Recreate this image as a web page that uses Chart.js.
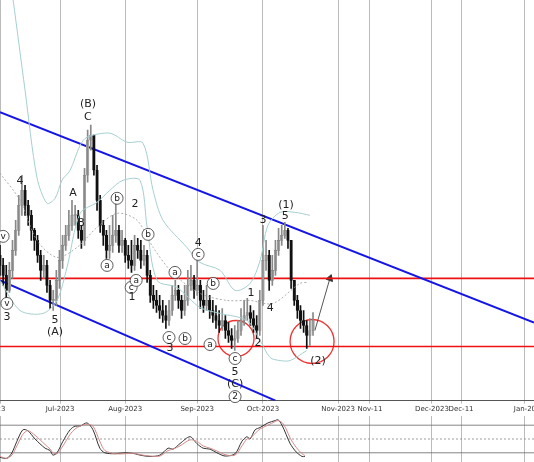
<!DOCTYPE html>
<html>
<head>
<meta charset="utf-8">
<script src="https://cdn.jsdelivr.net/npm/chart.js@4"></script>
<style>
  body { margin: 0; background: #fff; }
  #main { position: absolute; left: 0; top: 0; }
  #osc { position: absolute; left: 0; top: 416px; }
</style>
</head>
<body>
<div id="main" style="width:534px;height:414px"><canvas id="mainChart"></canvas></div>
<div id="osc" style="width:534px;height:46px"><canvas id="oscChart"></canvas></div>
<script>
// price values are in chart units (bigger = higher), one candle per trading day
const closes = [135,125,110,130,150,170,195,210,195,185,170,160,145,130,135,115,100,100,120,140,155,165,175,185,185,170,160,225,260,265,230,200,175,165,150,155,165,170,155,160,145,140,135,155,150,140,145,125,105,100,95,90,85,80,90,105,110,100,90,100,115,120,110,115,100,95,100,90,85,80,75,80,70,65,60,62,70,80,85,88,82,75,70,100,140,145,120,130,150,160,165,170,160,120,100,90,80,75,65,70,80];
const highs = [155,142,135,138,160,180,205,225,215,200,190,172,165,150,145,140,120,110,130,150,165,175,190,200,195,190,175,232,270,275,265,235,205,180,170,175,185,200,175,170,162,155,160,165,162,160,155,150,130,115,110,105,100,95,100,115,120,115,105,115,130,135,125,150,120,110,115,105,100,95,90,92,85,78,72,75,80,92,100,102,95,90,85,110,175,160,150,145,160,172,175,178,172,160,115,105,95,90,80,82,88];
const lows = [125,115,102,108,122,145,165,185,185,175,160,150,138,120,122,108,92,90,95,112,132,150,160,170,175,162,152,155,218,250,225,190,168,155,142,142,148,158,148,148,138,132,128,130,142,132,135,118,98,92,88,82,78,72,75,85,100,92,82,85,95,110,102,105,92,88,90,82,78,72,68,70,62,58,52,50,58,65,75,80,75,68,62,65,95,130,110,115,125,145,155,162,152,112,95,82,72,68,52,55,65];
const firstOpen = 145;

// bollinger bands, x = trading day, y = value
const bbUpperX = [4.2,8,11.8,15,17.6,19.8,22.4,25.6,27.8,35.1,40.6,45.7,48.9,52.1,59.7,63.9,70.3,75.1,79.9,83.1,85.6,89.5,94.2,99];
const bbUpper = [400,310,223,197,202,220,230,255,263,267,258,257,210,180,153,138,130,110,117,140,175,188,188,185];
const bbLowerX = [0,6.4,13.7,18.2,21.4,25.6,31,35.1,39.3,44.7,47,50.2,56.5,63.9,70.3,78.9,83.1,86.3,89.5,92.7,98];
const bbLower = [120,90,87,100,133,187,198,210,220,220,173,120,113,93,87,80,60,43,40,40,50];
const bbMidX = [0,6.4,11.8,18.2,24.6,31,37.4,43.8,48.9,55.3,63.9,72.5,79.9,87.2,95.8,98.4];
const bbMid = [227,200,160,143,153,173,187,180,153,127,107,100,100,97,117,118];

// wave labels: [text, x (trading day), y (value), circled]
const waveLabels = [
  ['v',1,164,true],['v',2.2,97,true],['3',2.2,83,false],['4',6.4,219,false],
  ['5',17.6,80,false],['(A)',17.6,68,false],['A',23.3,207,false],['B',25.9,177,false],
  ['(B)',28.1,296,false],['C',28.1,283,false],['b',37.4,202,true],['a',34.2,135,true],
  ['2',43.1,196,false],['b',47.3,166,true],['c',41.9,113,true],['a',43.5,120,true],
  ['1',42.2,103,false],['a',55.9,128,true],['c',54,63,true],['3',54.3,52,false],
  ['b',59.1,62,true],['4',63.3,157,false],['c',63.3,146,true],['b',68.1,117,true],
  ['a',67.1,56,true],['c',75.1,42,true],['5',75.1,28,false],['(C)',75.1,16,false],
  ['2',75.1,4,true],['1',80.2,107,false],['2',82.4,57,false],['3',84,180,false],
  ['4',86.3,92,false],['(1)',91.4,195,false],['5',91.1,184,false],['(2)',101.6,39,false]
];

// oscillator
const oscX = [0,2.2,3.8,5.4,7.3,8.9,11.2,14.4,16,16.9,18.2,20.1,22.4,24,25.6,27.8,29.7,31.9,33.5,36.7,39.9,43.1,44.7,47.9,51.1,53.7,55.3,57.5,60.7,62.9,64.9,67.1,69.3,71.9,75.1,77.3,78.9,79.9,81.5,83.1,85.6,87.9,88.8,90.1,91.4,92.7,94.6,96.5,97.4];
const oscK = [10,8,20,45,70,68,50,30,25,15,20,45,70,78,78,85,70,30,20,18,20,18,15,12,15,30,28,40,55,40,30,28,20,13,18,45,55,50,70,75,85,90,92,80,60,40,22,12,12];
const oscD = [12,8,15,35,60,68,58,38,28,20,18,35,60,72,78,82,78,45,25,18,18,19,16,13,13,25,28,35,48,45,35,30,24,16,15,35,50,52,62,72,80,88,90,86,72,52,32,18,14];

const tickPos = [0.3,19.2,40,63,84,108,118.2,138,147.3,167.7];
const tickText = ['23','Jul-2023','Aug-2023','Sep-2023','Oct-2023','Nov-2023','Nov-11','Dec-2023','Dec-11','Jan-20'];

const opens = closes.map((c, i) => i === 0 ? firstOpen : closes[i - 1]);
const up = opens.map((o, i) => closes[i] >= o);
const pts = (xs, ys) => xs.map((x, i) => ({ x, y: ys[i] }));

const labelPlugin = {
  id: 'waves',
  afterDatasetsDraw(chart) {
    const { ctx, scales: { x, y } } = chart;
    ctx.save();
    ctx.textAlign = 'center';
    ctx.textBaseline = 'middle';
    waveLabels.forEach(([t, lx, ly, circ]) => {
      const px = x.getPixelForValue(lx), py = y.getPixelForValue(ly);
      if (circ) {
        ctx.beginPath();
        ctx.arc(px, py, 6, 0, Math.PI * 2);
        ctx.fillStyle = '#fff'; ctx.fill();
        ctx.strokeStyle = '#333'; ctx.lineWidth = 0.8; ctx.stroke();
        ctx.font = '9px DejaVu Sans';
      } else {
        ctx.font = '11px DejaVu Sans';
      }
      ctx.fillStyle = '#222';
      ctx.fillText(t, px, py);
    });
    ctx.restore();
  }
};

const buildTicks = s => { s.ticks = tickPos.map(v => ({ value: v })); };
const noPad = s => { s.paddingLeft = 0; s.paddingRight = 0; };

new Chart(document.getElementById('mainChart'), {
  type: 'bar',
  data: {
    datasets: [
      { type: 'line', data: pts(bbUpperX, bbUpper), borderColor: '#a6cfcf', borderWidth: 1, pointRadius: 0, tension: 0.3 },
      { type: 'line', data: pts(bbLowerX, bbLower), borderColor: '#a6cfcf', borderWidth: 1, pointRadius: 0, tension: 0.3 },
      { type: 'line', data: pts(bbMidX, bbMid), borderColor: '#999', borderWidth: 0.8, borderDash: [2, 2], pointRadius: 0, tension: 0.3 },
      { data: closes.map((c, i) => ({ x: i, y: [lows[i], highs[i]] })), backgroundColor: up.map(u => u ? '#888' : '#111'),
        barThickness: 1, grouped: false },
      { data: closes.map((c, i) => ({ x: i, y: [opens[i], c] })), backgroundColor: up.map(u => u ? '#ddd' : '#111'),
        borderColor: up.map(u => u ? '#777' : '#111'), borderWidth: 0.6, borderSkipped: false, barThickness: 2.6, grouped: false, minBarLength: 1 },
      { type: 'line', data: [{ x: 0, y: 288 }, { x: 170.6, y: 78 }], borderColor: '#1515e6', borderWidth: 2, pointRadius: 0 },
      { type: 'line', data: [{ x: 0, y: 120 }, { x: 88, y: 0 }], borderColor: '#1515e6', borderWidth: 2, pointRadius: 0 },
      { type: 'line', data: [{ x: 0, y: 122 }, { x: 170.6, y: 122 }], borderColor: '#ee1111', borderWidth: 1.6, pointRadius: 0 },
      { type: 'line', data: [{ x: 0, y: 54 }, { x: 170.6, y: 54 }], borderColor: '#ee1111', borderWidth: 1.6, pointRadius: 0 },
      { type: 'line', data: [{ x: 100.6, y: 70 }, { x: 105.4, y: 122 }], borderColor: '#555', borderWidth: 1,
        pointRadius: [0, 4], pointStyle: 'triangle', pointRotation: 20, pointBackgroundColor: '#333', pointBorderColor: '#333' },
      { type: 'line', showLine: false, data: [{ x: 75.4, y: 62 }, { x: 99.7, y: 59 }], pointRadius: [18, 22],
        pointBackgroundColor: 'rgba(0,0,0,0)', pointBorderColor: '#ee3333', pointBorderWidth: 1.3, clip: false }
    ]
  },
  options: {
    responsive: true, maintainAspectRatio: false, animation: false,
    layout: { padding: 0, autoPadding: false },
    plugins: { legend: { display: false }, tooltip: { enabled: false } },
    scales: {
      x: { type: 'linear', min: 0, max: 170.6, offset: false, afterBuildTicks: buildTicks, afterFit: noPad,
           ticks: { autoSkip: false, maxRotation: 0, padding: 1, font: { size: 7, family: 'DejaVu Sans' }, color: '#333',
                    callback: v => tickText[tickPos.indexOf(v)] },
           grid: { color: '#bbb', offset: false, tickLength: 3 },
           border: { display: true, color: '#555' } },
      y: { min: 0, max: 400, display: false }
    }
  },
  plugins: [labelPlugin]
});

new Chart(document.getElementById('oscChart'), {
  type: 'line',
  data: {
    datasets: [
      { data: pts(oscX, oscD), borderColor: '#d08a8a', borderWidth: 1, pointRadius: 0, tension: 0.3 },
      { data: pts(oscX, oscK), borderColor: '#333', borderWidth: 1, pointRadius: 0, tension: 0.3 },
      { data: [{ x: 0, y: 80 }, { x: 170.6, y: 80 }], borderColor: '#666', borderWidth: 0.8, pointRadius: 0 },
      { data: [{ x: 0, y: 50 }, { x: 170.6, y: 50 }], borderColor: '#888', borderWidth: 0.8, borderDash: [2, 2], pointRadius: 0 },
      { data: [{ x: 0, y: 20 }, { x: 170.6, y: 20 }], borderColor: '#666', borderWidth: 0.8, pointRadius: 0 }
    ]
  },
  options: {
    responsive: true, maintainAspectRatio: false, animation: false,
    layout: { padding: 0, autoPadding: false },
    plugins: { legend: { display: false }, tooltip: { enabled: false } },
    scales: {
      x: { type: 'linear', min: 0, max: 170.6, afterBuildTicks: buildTicks,
           ticks: { display: false }, grid: { color: '#bbb', drawTicks: false }, border: { color: '#555' } },
      y: { min: 0, max: 100, display: false }
    }
  }
});
</script>
</body>
</html>
